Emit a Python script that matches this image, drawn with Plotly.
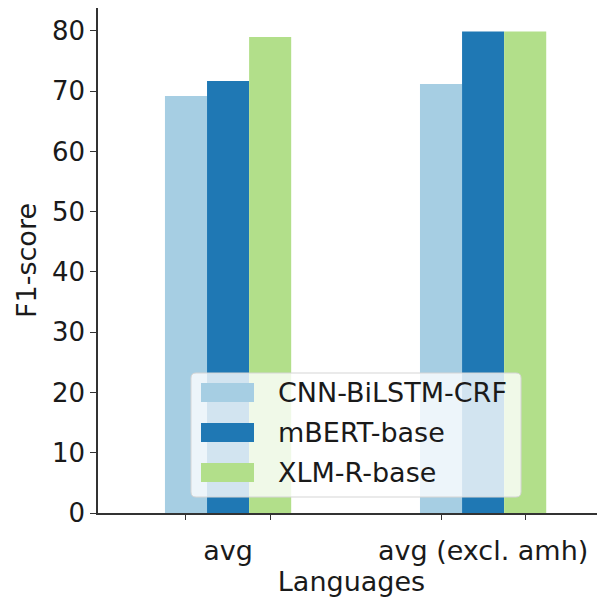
import plotly.graph_objects as go

categories = ["avg", "avg (excl. amh)"]
series_names = ["CNN-BiLSTM-CRF", "mBERT-base", "XLM-R-base"]
cnn_values = [69.2, 71.2]
mbert_values = [71.7, 79.9]
xlmr_values = [79.0, 79.9]
colors = ["#a6cee3", "#1f78b4", "#b2df8a"]
y_ticks = [0, 10, 20, 30, 40, 50, 60, 70, 80]

all_values = [cnn_values, mbert_values, xlmr_values]
w = 0.165
FONT = "DejaVu Sans"

fig = go.Figure()
centers = list(range(len(categories)))
for j, (name, vals, col) in enumerate(zip(series_names, all_values, colors)):
    fig.add_trace(go.Bar(
        x=[c + (j - 1) * w for c in centers],
        y=vals, width=w, name=name, marker=dict(color=col, line=dict(width=0)),
        showlegend=False,
    ))

# page body has an 8px margin; compensate so the plot area sits at x 98-605, y 8-513
fig.update_layout(
    width=605, height=597,
    margin=dict(l=90, r=8, t=0, b=92),
    plot_bgcolor="white", paper_bgcolor="white",
    font=dict(family=FONT, size=26, color="#1a1a1a"),
    xaxis=dict(
        range=[-0.51, 1.478], tickvals=centers, ticktext=categories,
        ticks="", showgrid=False, zeroline=False, automargin=False,
        showline=True, linecolor="#333", linewidth=1.5, mirror=True,
        ticklabelstandoff=13,
        minor=dict(tickvals=[c + d for c in centers for d in (-w, w)],
                   ticks="outside", ticklen=5, tickwidth=1.2, tickcolor="#333", showgrid=False),
        title=dict(text="Languages", standoff=5, font=dict(size=27)),
        tickfont=dict(size=27),
    ),
    yaxis=dict(
        range=[0, 83.8], tickvals=y_ticks, ticks="outside", ticklen=6, tickwidth=1.2,
        tickcolor="#333", showgrid=False, zeroline=False, automargin=False,
        showline=True, linecolor="#333", linewidth=1.5,
        title=dict(text="F1-score", standoff=8, font=dict(size=27)),
        tickfont=dict(size=26),
    ),
)

# legend drawn manually (matplotlib style wide patches)
px_x = lambda p: (p - 98) / 507
px_y = lambda p: (513 - p) / 505

def rounded_rect(x0, y0, x1, y1, r=5):
    X0, X1 = px_x(x0), px_x(x1)
    Y0, Y1 = px_y(y1), px_y(y0)  # Y0 bottom, Y1 top
    rx, ry = r / 507, r / 505
    return (f"M {X0+rx},{Y0} L {X1-rx},{Y0} Q {X1},{Y0} {X1},{Y0+ry} "
            f"L {X1},{Y1-ry} Q {X1},{Y1} {X1-rx},{Y1} L {X0+rx},{Y1} "
            f"Q {X0},{Y1} {X0},{Y1-ry} L {X0},{Y0+ry} Q {X0},{Y0} {X0+rx},{Y0} Z")

fig.add_shape(type="path", xref="paper", yref="paper",
              path=rounded_rect(191, 373, 521, 497),
              fillcolor="rgba(255,255,255,0.8)", line=dict(color="#d5d5d5", width=1), layer="above")
row_y = [392.5, 432.5, 472.5]
for name, col, ry in zip(series_names, colors, row_y):
    fig.add_shape(type="rect", xref="paper", yref="paper",
                  x0=px_x(201), x1=px_x(254), y0=px_y(ry + 9.5), y1=px_y(ry - 9.5),
                  fillcolor=col, line=dict(width=0), layer="above")
    fig.add_annotation(xref="paper", yref="paper", x=px_x(276), y=px_y(ry),
                       text=name, showarrow=False, xanchor="left", yanchor="middle",
                       font=dict(family=FONT, size=27, color="#1a1a1a"))

fig.write_html("out.html")
